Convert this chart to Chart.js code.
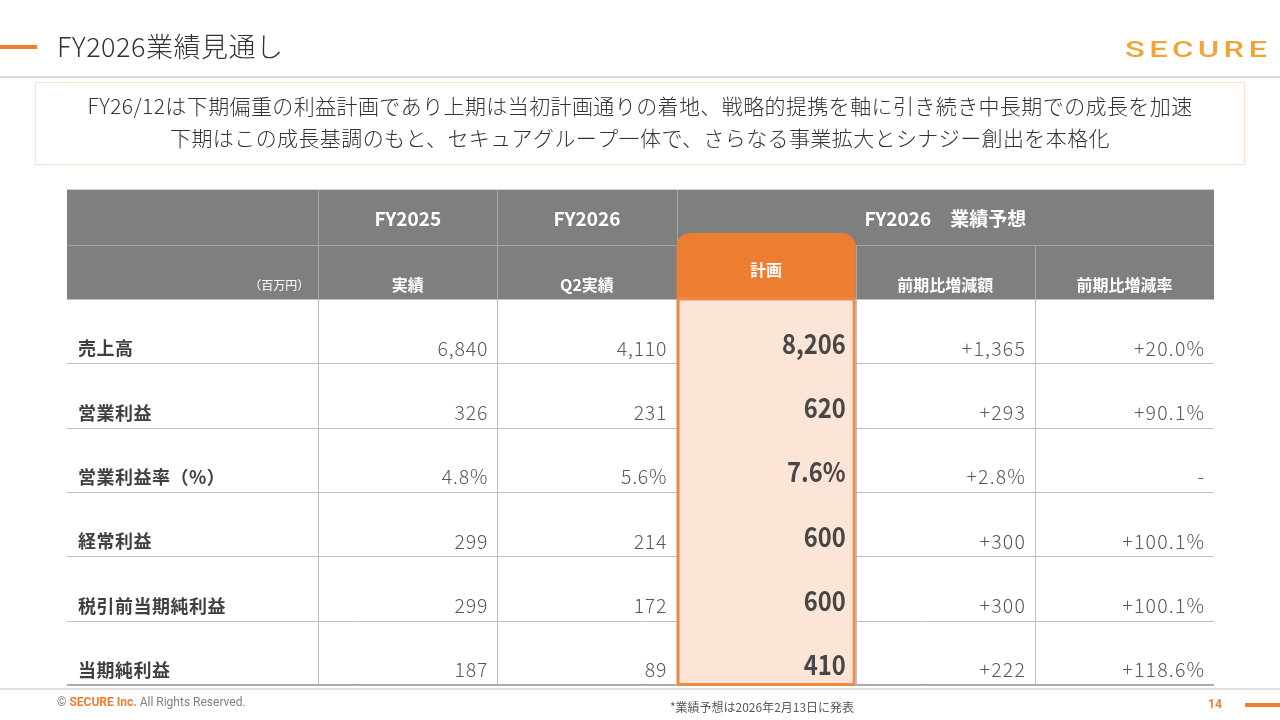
<!DOCTYPE html>
<html><head><meta charset="utf-8">
<script src="https://cdn.jsdelivr.net/npm/chart.js@4.4.1/dist/chart.umd.min.js"></script>
<style>html,body{margin:0;padding:0;background:#fff;}canvas{display:block;}</style>
</head><body>
<canvas id="c" width="1280" height="720"></canvas>
<script>
// ---- data ----
const rowLabels = ['売上高','営業利益','営業利益率（%）','経常利益','税引前当期純利益','当期純利益'];
const percentRows = [false,false,true,false,false,false];
const fy2025Actual = [6840, 326, 4.8, 299, 299, 187];
const fy2026Q2Actual = [4110, 231, 5.6, 214, 172, 89];
const fy2026Plan = [8206, 620, 7.6, 600, 600, 410];
const yoyChange = [1365, 293, 2.8, 300, 300, 222];
const yoyRate = [20.0, 90.1, null, 100.1, 100.1, 118.6];
const headerTop = ['', 'FY2025', 'FY2026', 'FY2026　業績予想'];
const headerSub = ['（百万円）', '実績', 'Q2実績', '計画', '前期比増減額', '前期比増減率'];
const titleText = 'FY2026業績見通し';
const messageLines = ['FY26/12は下期偏重の利益計画であり上期は当初計画通りの着地、戦略的提携を軸に引き続き中長期での成長を加速',
                      '下期はこの成長基調のもと、セキュアグループ一体で、さらなる事業拡大とシナジー創出を本格化'];
const footnote = '*業績予想は2026年2月13日に発表';
const pageNo = '14';

// ---- layout (scale units) ----
const colWidths = [251, 179, 179, 179, 179, 179];
const headerHeights = [55, 54];
const dataRowHeight = 64.33;
const colEdges = [0]; colWidths.forEach(w => colEdges.push(colEdges[colEdges.length-1] + w));
const rowEdges = [0]; headerHeights.forEach(h => rowEdges.push(rowEdges[rowEdges.length-1] + h));
rowLabels.forEach(() => rowEdges.push(rowEdges[rowEdges.length-1] + dataRowHeight));
const PLAN_COL = 3;

const JP = '"Noto Sans CJK JP", "Noto Sans", sans-serif';
function fmt(v, pct, sign) {
  if (v === null || v === undefined) return '-';
  let s = pct ? v.toFixed(1) + '%' : v.toLocaleString('en-US');
  return (sign && v > 0 ? '+' : '') + s;
}
const columns = [fy2025Actual, fy2026Q2Actual, fy2026Plan, yoyChange, yoyRate];

function setLS(ctx, px) { if ('letterSpacing' in ctx) ctx.letterSpacing = px + 'px'; }

const tablePlugin = {
  id: 'tableDraw',
  beforeDatasetsDraw(chart) {
    const ctx = chart.ctx, xs = chart.scales.x, ys = chart.scales.y;
    const X = v => xs.getPixelForValue(v), Y = v => ys.getPixelForValue(v);
    const L = X(0), R = X(colEdges[colEdges.length-1]);
    ctx.save();
    // page decoration
    ctx.fillStyle = '#ed7d31'; ctx.fillRect(0, 45, 37, 4);
    ctx.fillStyle = '#333'; ctx.font = '300 27px ' + JP; ctx.textBaseline = 'middle'; ctx.textAlign = 'left';
    setLS(ctx, 0.5);
    ctx.fillText(titleText, 57, 47);
    setLS(ctx, 0);
    ctx.fillStyle = '#d9d9d9'; ctx.fillRect(0, 76, 1280, 2);
    // logo
    ctx.save();
    ctx.font = '500 22px Roboto, "DejaVu Sans", sans-serif'; ctx.textAlign = 'left';
    const ls = 3;
    const w0 = ctx.measureText('SECURE').width;
    const sx = 142 / (w0 + 5 * ls);
    const grad = ctx.createLinearGradient(0, 42, 0, 59);
    grad.addColorStop(0, '#f0a53c'); grad.addColorStop(1, '#e2771f');
    ctx.fillStyle = grad;
    ctx.translate(1125, 51); ctx.scale(sx, 1);
    setLS(ctx, ls);
    ctx.fillText('SECURE', 0, 0);
    ctx.restore();
    // message box
    ctx.strokeStyle = '#fbe0cf'; ctx.lineWidth = 1; ctx.strokeRect(35.5, 82.5, 1209, 82);
    ctx.fillStyle = '#333'; ctx.font = '300 21px ' + JP; ctx.textAlign = 'center';
    setLS(ctx, 0.4);
    ctx.fillText(messageLines[0], 640, 106);
    ctx.fillText(messageLines[1], 640, 138);
    setLS(ctx, 0);

    // header background
    ctx.fillStyle = '#7f7f7f';
    ctx.fillRect(L, Y(rowEdges[0]), R - L, Y(rowEdges[2]) - Y(rowEdges[0]));
    ctx.fillStyle = '#d0d0d0'; ctx.fillRect(L, Y(0) - 1, R - L, 1);
    // header grid lines
    ctx.strokeStyle = '#a6a6a6'; ctx.lineWidth = 1;
    ctx.beginPath();
    ctx.moveTo(L, Math.round(Y(rowEdges[1])) + 0.5); ctx.lineTo(R, Math.round(Y(rowEdges[1])) + 0.5);
    for (let c = 1; c <= 3; c++) { const x = Math.round(X(colEdges[c])) + 0.5; ctx.moveTo(x, Y(0)); ctx.lineTo(x, Y(rowEdges[2])); }
    for (let c = 4; c <= 5; c++) { const x = Math.round(X(colEdges[c])) + 0.5; ctx.moveTo(x, Y(rowEdges[1])); ctx.lineTo(x, Y(rowEdges[2])); }
    ctx.stroke();
    // data grid lines
    ctx.strokeStyle = '#bfbfbf';
    ctx.beginPath();
    for (let r = 2; r < rowEdges.length; r++) { const y = Math.round(Y(rowEdges[r])) + 0.5; ctx.moveTo(L, y); ctx.lineTo(R, y); }
    for (let c = 1; c < colEdges.length - 1; c++) { const x = Math.round(X(colEdges[c])) + 0.5; ctx.moveTo(x, Y(rowEdges[2])); ctx.lineTo(x, Y(rowEdges[rowEdges.length-1])); }
    ctx.stroke();
    ctx.fillStyle = '#a6a6a6'; ctx.fillRect(L, Math.round(Y(rowEdges[rowEdges.length-1])) - 1, R - L, 1.5);

    // highlight column
    const hx0 = X(colEdges[PLAN_COL]), hx1 = X(colEdges[PLAN_COL+1]);
    const hTop = Y(rowEdges[1]) - 12, hMid = Y(rowEdges[2]), hBot = Y(rowEdges[rowEdges.length-1]);
    ctx.fillStyle = '#ed7d31';
    ctx.beginPath();
    if (ctx.roundRect) ctx.roundRect(hx0, hTop, hx1 - hx0, hMid - hTop + 2, [14, 14, 0, 0]); else ctx.rect(hx0, hTop, hx1 - hx0, hMid - hTop + 2);
    ctx.fill();
    ctx.fillStyle = '#fce4d6'; ctx.fillRect(hx0, hMid, hx1 - hx0, hBot - hMid);
    ctx.strokeStyle = '#ec8a48'; ctx.lineWidth = 3;
    ctx.strokeRect(hx0 + 1.5, hMid, hx1 - hx0 - 3, hBot - hMid - 0.5);

    // header texts
    ctx.fillStyle = '#fff'; ctx.textAlign = 'center'; ctx.textBaseline = 'middle';
    ctx.font = 'bold 19px ' + JP;
    const yTop = Y(rowEdges[0] + headerHeights[0] / 2) + 1;
    ctx.fillText(headerTop[1], (X(colEdges[1]) + X(colEdges[2])) / 2, yTop);
    ctx.fillText(headerTop[2], (X(colEdges[2]) + X(colEdges[3])) / 2, yTop);
    ctx.fillText(headerTop[3], (X(colEdges[3]) + X(colEdges[6])) / 2, yTop);
    const ySub = Y(rowEdges[2]) - 14;
    ctx.font = 'bold 16px ' + JP;
    for (let c = 1; c < headerSub.length; c++) {
      const cx = (X(colEdges[c]) + X(colEdges[c+1])) / 2;
      ctx.fillText(headerSub[c], cx, c === PLAN_COL ? Y(rowEdges[2]) - 29 : ySub);
    }
    ctx.font = '12px ' + JP; ctx.textAlign = 'right';
    ctx.fillText(headerSub[0], X(colEdges[1]) - 9, ySub);

    // body texts
    for (let r = 0; r < rowLabels.length; r++) {
      const yb = Y(rowEdges[r + 3]);
      ctx.textAlign = 'left'; ctx.fillStyle = '#404040'; ctx.font = 'bold 18px ' + JP;
      setLS(ctx, 0.5);
      ctx.fillText(rowLabels[r], L + 11, yb - 15);
      setLS(ctx, 0);
      for (let c = 0; c < columns.length; c++) {
        const col = c + 1, xr = X(colEdges[col + 1]) - 10;
        const sign = c >= 3;
        const txt = fmt(columns[c][r], percentRows[r] || c === 4, sign);
        ctx.textAlign = 'right';
        if (col === PLAN_COL) {
          ctx.save();
          ctx.fillStyle = '#474747'; ctx.font = 'bold 27px ' + JP;
          ctx.translate(xr, yb - 20); ctx.scale(0.88, 1);
          ctx.fillText(txt, 0, 0);
          ctx.restore();
        } else {
          ctx.fillStyle = '#595959'; ctx.font = '300 19.5px ' + JP;
          const lsp = txt.startsWith('+') ? 1.2 : 0.8;
          setLS(ctx, lsp);
          ctx.fillText(txt, xr + lsp, yb - 15);
          setLS(ctx, 0);
        }
      }
    }

    // footer
    ctx.fillStyle = '#e0e0e0'; ctx.fillRect(0, 688, 1280, 2);
    ctx.textBaseline = 'middle'; ctx.textAlign = 'left';
    let fx = 57;
    const parts = [['© ', '#7f7f7f', '12px Roboto, sans-serif'], ['SECURE Inc.', '#ed7d31', 'bold 12px Roboto, sans-serif'], [' All Rights Reserved.', '#7f7f7f', '12px Roboto, sans-serif']];
    parts.forEach(([t, col, f]) => { ctx.font = f; ctx.fillStyle = col; ctx.fillText(t, fx, 703); fx += ctx.measureText(t).width; });
    ctx.fillStyle = '#595959'; ctx.font = '12px ' + JP; ctx.textAlign = 'center';
    ctx.fillText(footnote, 762, 707);
    ctx.fillStyle = '#ed7d31'; ctx.font = 'bold 12px Roboto, sans-serif';
    ctx.fillText(pageNo, 1215, 705);
    ctx.fillRect(1245, 703, 35, 4);
    ctx.restore();
  }
};

new Chart(document.getElementById('c'), {
  type: 'scatter',
  data: { datasets: [{
    label: '計画',
    data: fy2026Plan.map((v, i) => ({ x: colEdges[PLAN_COL] + colWidths[PLAN_COL] / 2, y: rowEdges[i + 2] + dataRowHeight / 2 })),
    pointRadius: 0, showLine: false
  }] },
  options: {
    responsive: false, animation: false, devicePixelRatio: 1,
    layout: { padding: { left: 67, right: 66, top: 190, bottom: 35 } },
    plugins: { legend: { display: false }, tooltip: { enabled: false } },
    scales: {
      x: { type: 'linear', display: false, min: 0, max: colEdges[colEdges.length - 1] },
      y: { type: 'linear', display: false, min: 0, max: rowEdges[rowEdges.length - 1], reverse: true }
    }
  },
  plugins: [tablePlugin]
});
</script>
</body></html>
